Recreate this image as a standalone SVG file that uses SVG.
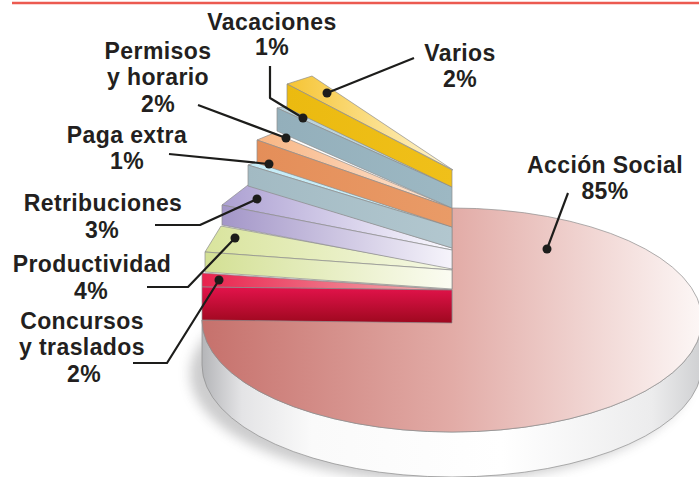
<svg xmlns="http://www.w3.org/2000/svg" width="699" height="477" viewBox="0 0 699 477">
<style>
.lbl{font-family:"Liberation Sans",Arial,sans-serif;font-weight:bold;font-size:23px;fill:#231f20;letter-spacing:0.4px;text-anchor:middle}
.edge{stroke:#8c8c8c;stroke-width:0.7;stroke-linejoin:round}
.lead{fill:none;stroke:#1d1d1b;stroke-width:2.2;stroke-linejoin:round}
.dot{fill:#1d1d1b}
</style>
<defs>
<filter id="blur" x="-20%" y="-20%" width="140%" height="140%"><feGaussianBlur stdDeviation="6"/></filter>
<linearGradient id="gTop" gradientUnits="userSpaceOnUse" x1="202" y1="0" x2="699" y2="0">
<stop offset="0" stop-color="#c6716c"/><stop offset="0.5" stop-color="#e2aba6"/><stop offset="1" stop-color="#fcf6f5"/></linearGradient>
<linearGradient id="gSide" gradientUnits="userSpaceOnUse" x1="202" y1="0" x2="702" y2="0">
<stop offset="0" stop-color="#b4b5b8"/><stop offset="0.08" stop-color="#e4e4e6"/><stop offset="0.22" stop-color="#fafafa"/><stop offset="0.6" stop-color="#ffffff"/><stop offset="0.9" stop-color="#ececed"/><stop offset="1" stop-color="#cfd0d2"/></linearGradient>
<linearGradient id="gYT" gradientUnits="userSpaceOnUse" x1="287" y1="0" x2="453" y2="0"><stop offset="0" stop-color="#f6c432"/><stop offset="1" stop-color="#fff6d6"/></linearGradient>
<linearGradient id="gYF" gradientUnits="userSpaceOnUse" x1="287" y1="0" x2="452" y2="0"><stop offset="0" stop-color="#ebba10"/><stop offset="1" stop-color="#f0c01a"/></linearGradient>
<linearGradient id="gBF" gradientUnits="userSpaceOnUse" x1="277" y1="0" x2="452" y2="0"><stop offset="0" stop-color="#93afbb"/><stop offset="1" stop-color="#9db8c3"/></linearGradient>
<linearGradient id="gOT" gradientUnits="userSpaceOnUse" x1="257" y1="0" x2="452" y2="0"><stop offset="0" stop-color="#f8b684"/><stop offset="1" stop-color="#fde6d6"/></linearGradient>
<linearGradient id="gOF" gradientUnits="userSpaceOnUse" x1="257" y1="0" x2="452" y2="0"><stop offset="0" stop-color="#e48e59"/><stop offset="1" stop-color="#e99b67"/></linearGradient>
<linearGradient id="gPF" gradientUnits="userSpaceOnUse" x1="248" y1="0" x2="452" y2="0"><stop offset="0" stop-color="#a2bac3"/><stop offset="1" stop-color="#b2c7cf"/></linearGradient>
<linearGradient id="gVT" gradientUnits="userSpaceOnUse" x1="222" y1="0" x2="452" y2="0"><stop offset="0" stop-color="#aca0d2"/><stop offset="1" stop-color="#fbfaff"/></linearGradient>
<linearGradient id="gVF" gradientUnits="userSpaceOnUse" x1="222" y1="0" x2="452" y2="0"><stop offset="0" stop-color="#a396c8"/><stop offset="1" stop-color="#f6f4fb"/></linearGradient>
<linearGradient id="gGT" gradientUnits="userSpaceOnUse" x1="205" y1="0" x2="452" y2="0"><stop offset="0" stop-color="#d9e49d"/><stop offset="1" stop-color="#f6f9e6"/></linearGradient>
<linearGradient id="gGF" gradientUnits="userSpaceOnUse" x1="205" y1="0" x2="452" y2="0"><stop offset="0" stop-color="#d3e094"/><stop offset="1" stop-color="#fbfcf2"/></linearGradient>
<linearGradient id="gRT" gradientUnits="userSpaceOnUse" x1="202" y1="0" x2="452" y2="0"><stop offset="0" stop-color="#e8234e"/><stop offset="1" stop-color="#f6b7b6"/></linearGradient>
<linearGradient id="gRF" gradientUnits="userSpaceOnUse" x1="0" y1="287" x2="0" y2="323"><stop offset="0" stop-color="#e3134b"/><stop offset="1" stop-color="#9e081f"/></linearGradient>
</defs>

<line x1="12" y1="3" x2="699" y2="3" stroke="#ec5a50" stroke-width="2.5"/>

<g id="accion-social">
<ellipse cx="440" cy="374" rx="250" ry="108" fill="#6f6f72" opacity="0.35" filter="url(#blur)"/>
<path d="M202,320 L202,365 A250,112 0 0,0 702,365 L702,320 A250,112 0 0,1 202,320 Z" fill="url(#gSide)" class="edge"/>
<path d="M452,320 L452,208 A250,112 0 1,1 202,320 Z" fill="url(#gTop)" class="edge"/>
<text class="lbl" x="605" y="173">Acción Social</text>
<text class="lbl" x="605" y="199">85%</text>
</g>

<g id="concursos">
<polygon points="202,273 452,290 202,287" fill="url(#gRT)" class="edge"/>
<polygon points="202,287 452,290 452,323 202,320" fill="url(#gRF)" class="edge"/>
<text class="lbl" x="82" y="329">Concursos</text>
<text class="lbl" x="82" y="355">y traslados</text>
<text class="lbl" x="84" y="382">2%</text>
</g>

<g id="productividad">
<polygon points="205,252 221,226 452,268 452,270" fill="url(#gGT)" class="edge"/>
<polygon points="205,252 452,270 452,289 205,272" fill="url(#gGF)" class="edge"/>
<text class="lbl" x="92" y="272">Productividad</text>
<text class="lbl" x="91" y="299">4%</text>
</g>

<g id="retribuciones">
<polygon points="222,205 248,185 452,248 452,250" fill="url(#gVT)" class="edge"/>
<polygon points="222,205 452,250 452,269 222,225" fill="url(#gVF)" class="edge"/>
<text class="lbl" x="103" y="211">Retribuciones</text>
<text class="lbl" x="102" y="238">3%</text>
</g>

<g id="paga-extra">
<polygon points="248,165 260,161 452,227" fill="#c6ecf7" class="edge"/>
<polygon points="248,165 452,227 452,248 248,186" fill="url(#gPF)" class="edge"/>
<text class="lbl" x="127" y="143">Paga extra</text>
<text class="lbl" x="127" y="169">1%</text>
</g>

<g id="permisos">
<polygon points="257,140 274,133 452,208" fill="url(#gOT)" class="edge"/>
<polygon points="257,140 452,208 452,227 257,163" fill="url(#gOF)" class="edge"/>
<text class="lbl" x="158" y="59">Permisos</text>
<text class="lbl" x="158" y="85">y horario</text>
<text class="lbl" x="158" y="112">2%</text>
</g>

<g id="vacaciones">
<polygon points="277,108 288,106 452,187" fill="#bcd3dc" class="edge"/>
<polygon points="277,108 452,187 452,208 277,131" fill="url(#gBF)" class="edge"/>
<text class="lbl" x="272" y="30">Vacaciones</text>
<text class="lbl" x="272" y="55">1%</text>
</g>

<g id="varios">
<polygon points="287,84 312,76 453,170" fill="url(#gYT)" class="edge"/>
<polygon points="287,84 452,170 452,187 287,108" fill="url(#gYF)" class="edge"/>
<text class="lbl" x="460" y="61">Varios</text>
<text class="lbl" x="460" y="87">2%</text>
</g>

<g id="connectors">
<polyline class="lead" points="414,58 327,93"/><circle class="dot" cx="327" cy="93" r="4.5"/>
<polyline class="lead" points="270,66 270,98 303,118"/><circle class="dot" cx="303" cy="118" r="4.5"/>
<polyline class="lead" points="198,105 286,138"/><circle class="dot" cx="286" cy="138" r="4.5"/>
<polyline class="lead" points="169,154 269,164"/><circle class="dot" cx="269" cy="164" r="4.5"/>
<polyline class="lead" points="155,225 200,225 257,199"/><circle class="dot" cx="257" cy="199" r="4.5"/>
<polyline class="lead" points="147,287 188,287 235,238"/><circle class="dot" cx="235" cy="238" r="4.5"/>
<polyline class="lead" points="133,363 167,363 219,280"/><circle class="dot" cx="219" cy="280" r="4.5"/>
<polyline class="lead" points="568,193 547,249"/><circle class="dot" cx="547" cy="249" r="4.5"/>
</g>
</svg>
